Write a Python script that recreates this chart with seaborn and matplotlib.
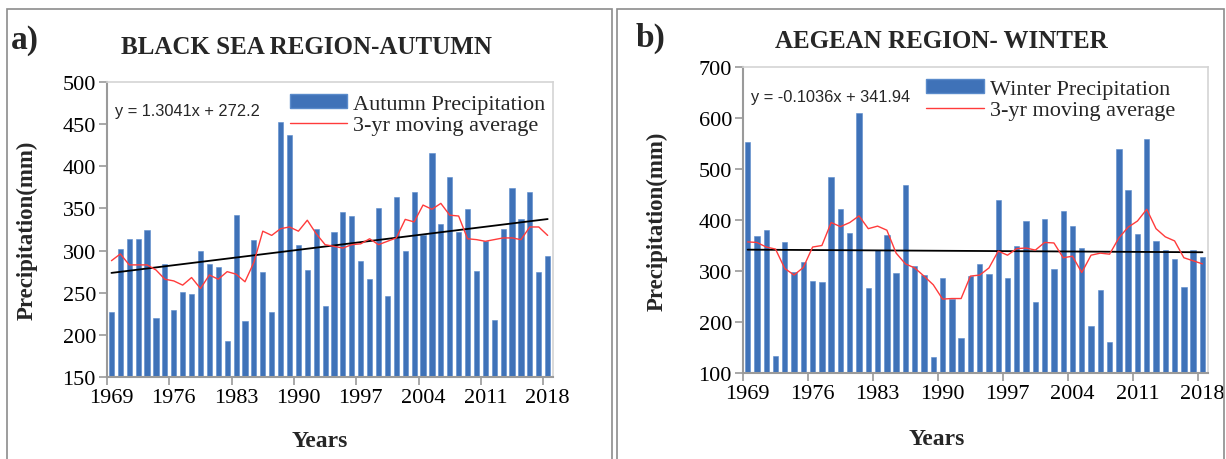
import numpy as np
import pandas as pd
import matplotlib
matplotlib.use('Agg')
import matplotlib.pyplot as plt
from matplotlib.patches import Patch, Rectangle
from matplotlib.lines import Line2D
import seaborn as sns

sns.set_theme(style="white")
plt.rcParams['font.family'] = ['Liberation Serif', 'DejaVu Serif']

# ---- data ----
years = list(range(1969, 2019))

autumn_precip = [227, 302, 314, 314, 325, 220, 284, 229, 251, 249,
                 300, 284, 281, 193, 342, 216, 313, 275, 227, 453,
                 437, 307, 277, 326, 234, 322, 346, 341, 288, 266,
                 350, 246, 364, 299, 369, 318, 416, 331, 387, 322,
                 349, 276, 311, 218, 326, 374, 337, 369, 274, 294]
autumn_ma = [288, 296, 283, 283, 283, 277, 266, 264, 259, 268,
             255, 271, 266, 275, 272, 263, 286, 323, 318, 326,
             328, 323, 336, 320, 307, 305, 303, 307, 308, 314,
             307, 311, 315, 337, 334, 354, 349, 356, 342, 341,
             314, 313, 311, 313, 315, 315, 313, 328, 328, 318]

winter_precip = [552, 368, 380, 133, 356, 299, 317, 280, 279, 485,
                 421, 374, 610, 267, 341, 371, 296, 469, 310, 292,
                 131, 286, 246, 169, 290, 314, 295, 439, 287, 349,
                 399, 239, 401, 303, 418, 389, 345, 193, 262, 160,
                 540, 458, 373, 558, 359, 342, 323, 269, 342, 328]
winter_ma = [357, 356, 347, 343, 305, 292, 307, 347, 350, 395,
             387, 395, 408, 383, 388, 380, 335, 314, 306, 290,
             273, 245, 246, 246, 290, 292, 306, 339, 331, 344,
             345, 341, 356, 355, 326, 329, 297, 331, 335, 333,
             365, 386, 398, 421, 383, 367, 359, 326, 320, 314]

# trend-line coefficients as printed on the chart (x = 1..50)
autumn_trend = (1.3041, 272.2)
winter_trend = (-0.1036, 341.94)

year_labels = [1969, 1976, 1983, 1990, 1997, 2004, 2011, 2018]

BAR = "#3f72b8"
RED = "#ff3b3b"
W, H = 1226, 460

fig = plt.figure(figsize=(W / 100, H / 100), dpi=100)

# panel frames
for x0, x1 in [(7, 612), (617, 1224)]:
    fig.patches.append(Rectangle((x0 / W, -0.1), (x1 - x0) / W, 1.1 - 10 / H,
                                 transform=fig.transFigure, fill=False,
                                 edgecolor="#8c8c8c", linewidth=1.2))


def panel(rect, values, ma, trend, ylim, yticks, title, tag, tag_xy, title_xy,
          eq_text, series_label, ylabel_x, years_xy, leg_x):
    ax = fig.add_axes([rect[0] / W, (H - rect[3]) / H,
                       (rect[2] - rect[0]) / W, (rect[3] - rect[1]) / H])
    df = pd.DataFrame({"year": years, "value": values, "ma": ma})
    idx = np.arange(1, len(years) + 1)
    df["trend"] = trend[0] * idx + trend[1]

    sns.barplot(data=df, x="year", y="value", native_scale=True, width=0.58,
                color=BAR, saturation=1, edgecolor="#5a8bcb", linewidth=0.4, ax=ax)
    sns.lineplot(data=df, x="year", y="trend", color="black", linewidth=1.3, ax=ax)
    sns.lineplot(data=df, x="year", y="ma", color=RED, linewidth=1.0, ax=ax)

    ax.set_xlim(1968.5, 2018.6)
    ax.set_ylim(*ylim)
    ax.set_yticks(yticks)
    ax.set_xticks(year_labels)
    ax.set_xticks(np.arange(1968.5, 2019, 7), minor=True)
    ax.tick_params(axis="x", which="major", length=0, pad=8, labelsize=16)
    ax.tick_params(axis="x", which="minor", length=6, width=1.2, color="#9a9a9a",
                   direction="out", bottom=True)
    ax.tick_params(axis="y", length=6, width=1.2, color="#9a9a9a", direction="out",
                   left=True, labelsize=16, pad=2)
    for lab in ax.get_xticklabels() + ax.get_yticklabels():
        lab.set_color("black")
    for side in ["left", "bottom"]:
        ax.spines[side].set_color("#9a9a9a")
        ax.spines[side].set_linewidth(1.5)
    for side in ["top", "right"]:
        ax.spines[side].set_color("#d4d4d4")
        ax.spines[side].set_linewidth(1.2)
    ax.set_xlabel("")
    ax.set_ylabel("")

    fig.text(ylabel_x / W, (H - (rect[1] + rect[3]) / 2) / H, "Precipitation(mm)",
             rotation=90, ha="center", va="center", fontsize=16.5, fontweight="bold")
    fig.text(years_xy[0] / W, (H - years_xy[1]) / H, "Years", ha="center", va="center",
             fontsize=17, fontweight="bold")
    fig.text(title_xy[0] / W, (H - title_xy[1]) / H, title, ha="center", va="center",
             fontsize=18, fontweight="bold")
    fig.text(tag_xy[0] / W, (H - tag_xy[1]) / H, tag, ha="left", va="center",
             fontsize=24, fontweight="bold")
    ax.text(0.018, 0.905, eq_text, transform=ax.transAxes, ha="left", va="center",
            fontsize=11.8, family=["Liberation Sans", "DejaVu Sans"])

    handles = [Patch(facecolor=BAR, edgecolor="#5a8bcb"),
               Line2D([0], [0], color=RED, linewidth=1.0)]
    ax.legend(handles, [series_label, "3-yr moving average"], loc="upper right",
              bbox_to_anchor=(leg_x, 1.0), frameon=False, fontsize=16,
              handlelength=2.6, handleheight=0.6, handletextpad=0.25,
              labelspacing=0.05, borderaxespad=0.15)
    return ax


panel((107, 83, 553, 378), autumn_precip, autumn_ma, autumn_trend,
      (150, 500), range(150, 501, 50), "BLACK SEA REGION-AUTUMN", "a)",
      (11, 40), (307, 48), "y = 1.3041x + 272.2", "Autumn Precipitation",
      27, (320, 442), 1.01)

panel((743, 68, 1208, 374), winter_precip, winter_ma, winter_trend,
      (100, 700), range(100, 701, 100), "AEGEAN REGION- WINTER", "b)",
      (636, 38), (941, 41), "y = -0.1036x + 341.94", "Winter Precipitation",
      657, (937, 440), 0.955)

fig.savefig("out.png", dpi=100)
